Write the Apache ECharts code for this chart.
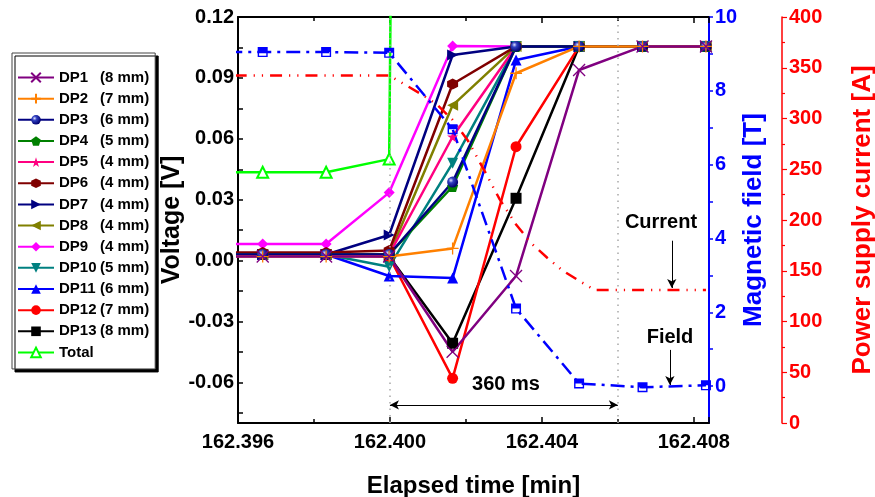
<!DOCTYPE html>
<html>
<head>
<meta charset="utf-8">
<script src="https://cdn.jsdelivr.net/npm/echarts@6/dist/echarts.min.js"></script>
<style>
  html, body { margin: 0; padding: 0; background: #fff; }
  #chart { width: 875px; height: 497px; }
</style>
</head>
<body>
<div id="chart"></div>
<script>
// sample times [min], first one is off the left edge
const times = [162.39498, 162.39665, 162.39832, 162.39998, 162.40165, 162.40332, 162.40498, 162.40665, 162.40832]

const dpNames = ["DP1", "DP2", "DP3", "DP4", "DP5", "DP6", "DP7", "DP8", "DP9", "DP10", "DP11", "DP12", "DP13"]
const dpSizes = [8, 7, 6, 5, 4, 4, 4, 4, 4, 5, 6, 7, 8]

const dp1 = [0.002, 0.002, 0.002, 0.002, -0.0449, -0.0076, 0.0939, 0.1055, 0.1055]
const dp2 = [0.002, 0.002, 0.002, 0.002, 0.006, 0.0923, 0.1055, 0.1055, 0.1055]
const dp3 = [0.003, 0.003, 0.003, 0.003, 0.0387, 0.1055, 0.1055, 0.1055, 0.1055]
const dp4 = [0.003, 0.003, 0.003, 0.003, 0.0365, 0.1055, 0.1055, 0.1055, 0.1055]
const dp5 = [0.003, 0.003, 0.003, 0.003, 0.061, 0.1055, 0.1055, 0.1055, 0.1055]
const dp6 = [0.004, 0.004, 0.004, 0.005, 0.087, 0.1055, 0.1055, 0.1055, 0.1055]
const dp7 = [0.003, 0.003, 0.003, 0.0126, 0.1013, 0.1055, 0.1055, 0.1055, 0.1055]
const dp8 = [0.003, 0.003, 0.003, 0.003, 0.0765, 0.1055, 0.1055, 0.1055, 0.1055]
const dp9 = [0.0082, 0.0082, 0.0082, 0.0335, 0.1057, 0.1055, 0.1055, 0.1055, 0.1055]
const dp10 = [0.003, 0.003, 0.003, -0.003, 0.048, 0.1055, 0.1055, 0.1055, 0.1055]
const dp11 = [0.003, 0.003, 0.003, -0.0076, -0.0086, 0.0988, 0.1055, 0.1055, 0.1055]
const dp12 = [0.003, 0.003, 0.003, 0.002, -0.058, 0.0561, 0.1055, 0.1055, 0.1055]
const dp13 = [0.003, 0.003, 0.003, 0.002, -0.0407, 0.0307, 0.1055, 0.1055, 0.1055]
const total = [0.0435, 0.0435, 0.0435, 0.050, 3.5, 3.5, 3.5, 3.5, 3.5]

// magnetic field [T]
const field = [9.05, 9.05, 9.05, 9.03, 6.96, 2.1, 0.07, -0.03, 0.02]

// power supply current [A]
const currentTimes = [162.39498, 162.39998, 162.40039, 162.40082, 162.40124, 162.40165, 162.40205, 162.40249, 162.40289,
  162.40332, 162.40372, 162.40414, 162.40455, 162.40498, 162.40539, 162.40832]
const currentValues = [342.4, 342.4, 333.5, 324.1, 313.8, 298.6, 278.4, 248.5, 220.3, 195.6, 177.1, 162.8, 150.1, 140.1, 131, 131]

const voltTicks = [-0.06, -0.03, 0, 0.03, 0.06, 0.09, 0.12]
const fieldTicks = [0, 2, 4, 6, 8, 10]

const FONT = "'Liberation Sans', Arial, sans-serif"

let myChart = echarts.init(document.getElementById("chart"))

const sphere = new echarts.graphic.RadialGradient(0.35, 0.35, 0.65, [
  { offset: 0, color: "#e0e0ff" },
  { offset: 0.35, color: "#3040c0" },
  { offset: 1, color: "#000070" },
])

const dpStyles = [
  { color: "#800080", symbol: "path://M0,0L10,10M10,0L0,10", stroke: true },
  { color: "#FF8000", symbol: "path://M5,0L5,10M0,5L10,5", stroke: true },
  { color: "#000080", symbol: "circle", fill: sphere },
  { color: "#008000", symbol: "path://M5,0L10,3.8L8.1,10L1.9,10L0,3.8Z" },
  { color: "#FF0080", symbol: "path://M5,0L6.2,3.6L10,3.6L6.9,5.9L8.1,9.5L5,7.3L1.9,9.5L3.1,5.9L0,3.6L3.8,3.6Z" },
  { color: "#800000", symbol: "path://M5,0L9.3,2.5L9.3,7.5L5,10L0.7,7.5L0.7,2.5Z" },
  { color: "#000080", symbol: "path://M0,0L10,5L0,10Z" },
  { color: "#808000", symbol: "path://M10,0L0,5L10,10Z" },
  { color: "#FF00FF", symbol: "diamond" },
  { color: "#008080", symbol: "path://M0,0L10,0L5,10Z" },
  { color: "#0000FF", symbol: "triangle" },
  { color: "#FF0000", symbol: "circle" },
  { color: "#000000", symbol: "rect" },
]
const dpValues = [dp1, dp2, dp3, dp4, dp5, dp6, dp7, dp8, dp9, dp10, dp11, dp12, dp13]

let series = []

// Total first so it sits underneath
series.push({
  name: "Total",
  type: "line",
  data: times.map((t, i) => [t, total[i]]),
  symbol: "emptyTriangle",
  symbolSize: 11,
  lineStyle: { color: "#00FF00", width: 2.5 },
  itemStyle: { color: "#00FF00", borderColor: "#00FF00", borderWidth: 1.5 },
})

const guide = { color: "#a8a8a8", width: 1.5, type: [1.5, 5] }

for (let k = dpNames.length - 1; k >= 0; k--) {
  let st = dpStyles[k]
  let s = {
    name: dpNames[k],
    type: "line",
    data: times.map((t, i) => [t, dpValues[k][i]]),
    symbol: st.symbol,
    symbolSize: st.stroke ? 12 : 11,
    lineStyle: { color: st.color, width: 2.5 },
    itemStyle: st.stroke
      ? { color: st.color, borderColor: st.color, borderWidth: 1.3 }
      : { color: st.fill || st.color },
  }
  if (k === 12) {
    // 360 ms span
    s.markLine = {
      silent: true,
      animation: false,
      symbol: ["arrow", "arrow"],
      symbolSize: [7, 9],
      label: { show: false },
      lineStyle: { color: "#000", width: 1, type: "solid" },
      data: [
        [{ coord: [162.400, -0.0711] }, { coord: [162.406, -0.0711] }],
      ],
    }
  }
  if (k === 11) {
    // dotted guide lines
    s.markLine = {
      silent: true,
      animation: false,
      symbol: ["none", "none"],
      label: { show: false },
      lineStyle: guide,
      data: [
        [{ coord: [162.400, -0.08] }, { coord: [162.400, 0.12] }],
        [{ coord: [162.406, -0.08] }, { coord: [162.406, 0.12] }],
      ],
    }
  }
  if (k === 10) {
    s.markLine = {
      silent: true,
      animation: false,
      symbol: ["none", "arrow"],
      symbolSize: [7, 9],
      label: { show: false },
      lineStyle: { color: "#000", width: 1, type: "solid" },
      data: [
        [{ coord: [162.40742, 0.0098] }, { coord: [162.40742, -0.0135] }],
        [{ coord: [162.40737, -0.044] }, { coord: [162.40737, -0.0613] }],
      ],
    }
  }
  series.push(s)
}

series.push({
  name: "Current",
  type: "line",
  yAxisIndex: 2,
  data: currentTimes.map((t, i) => [t, currentValues[i]]),
  showSymbol: false,
  symbol: "none",
  lineStyle: { color: "#FF0000", width: 2.5, type: [12, 7, 1.2, 7, 1.2, 7] },
})

series.push({
  name: "Field",
  type: "line",
  yAxisIndex: 1,
  data: times.map((t, i) => [t, field[i]]),
  symbol: "path://M0,0L10,0L10,10L0,10Z M1.4,5L1.4,8.6L8.6,8.6L8.6,5Z",
  symbolSize: 10,
  lineStyle: { color: "#0000FF", width: 2.5, type: [14, 6, 3, 6] },
  itemStyle: { color: "#0000FF" },
})

myChart.setOption({
  animation: false,
  backgroundColor: "#fff",
  textStyle: { fontFamily: FONT },
  grid: { left: 238, right: 166, top: 17, bottom: 74, containLabel: false, outerBoundsMode: "none" },
  legend: {
    orient: "vertical",
    left: 12,
    top: 53,
    data: dpNames.concat(["Total"]),
    itemWidth: 36,
    itemHeight: 12,
    itemGap: 6.15,
    padding: [17, 6, 9, 5],
    backgroundColor: "#fff",
    borderColor: "#444",
    borderWidth: 1,
    shadowColor: "#000",
    shadowBlur: 0,
    shadowOffsetX: 3,
    shadowOffsetY: 3,
    selectedMode: false,
    formatter: (name) => {
      let i = dpNames.indexOf(name)
      if (i < 0) return "{a|" + name + "}"
      return "{a|" + name + "}{b|(" + dpSizes[i] + " mm)}"
    },
    textStyle: {
      color: "#000",
      fontWeight: "bold",
      fontSize: 15,
      lineHeight: 15,
      fontFamily: FONT,
      rich: {
        a: { width: 41, fontWeight: "bold", fontSize: 15, lineHeight: 15, fontFamily: FONT, color: "#000" },
        b: { fontWeight: "bold", fontSize: 15, lineHeight: 15, fontFamily: FONT, color: "#000" },
      },
    },
  },
  xAxis: [
    {
      type: "value",
      min: 162.396,
      max: 162.4084,
      interval: 0.004,
      name: "Elapsed time [min]",
      nameLocation: "middle",
      nameGap: 51,
      nameMoveOverlap: false,
      nameTextStyle: { color: "#000", fontWeight: "bold", fontSize: 24, fontFamily: FONT },
      axisLine: { show: true, onZero: false, lineStyle: { color: "#000", width: 2 } },
      axisTick: { show: true, inside: true, length: 6, lineStyle: { color: "#000", width: 1.5 } },
      minorTick: { show: true, splitNumber: 2, length: 4, lineStyle: { color: "#000", width: 1.5 } },
      axisLabel: {
        color: "#000",
        fontWeight: "bold",
        fontSize: 20,
        fontFamily: FONT,
        margin: 9,
        formatter: (v) => v.toFixed(3),
      },
      splitLine: { show: false },
    },
    {
      type: "value",
      position: "top",
      min: 162.396,
      max: 162.4084,
      interval: 0.004,
      axisLine: { show: true, onZero: false, lineStyle: { color: "#000", width: 2 } },
      axisTick: { show: true, inside: true, length: 6, lineStyle: { color: "#000", width: 1.5 } },
      minorTick: { show: true, splitNumber: 2, length: 4, lineStyle: { color: "#000", width: 1.5 } },
      axisLabel: { show: false },
      splitLine: { show: false },
    },
  ],
  yAxis: [
    {
      type: "value",
      min: -0.08,
      max: 0.12,
      name: "Voltage [V]",
      nameLocation: "middle",
      nameRotate: 90,
      nameGap: 53,
      nameMoveOverlap: false,
      nameTextStyle: { color: "#000", fontWeight: "bold", fontSize: 25, fontFamily: FONT },
      axisLine: { show: true, onZero: false, lineStyle: { color: "#000", width: 2 } },
      axisTick: {
        show: true,
        inside: true,
        length: 5,
        customValues: [-0.075, -0.06, -0.045, -0.03, -0.015, 0, 0.015, 0.03, 0.045, 0.06, 0.075, 0.09, 0.105, 0.12],
        lineStyle: { color: "#000", width: 1.5 },
      },
      axisLabel: {
        color: "#000",
        fontWeight: "bold",
        fontSize: 20,
        fontFamily: FONT,
        margin: 4,
        customValues: voltTicks,
        formatter: (v) => v.toFixed(2),
      },
      splitLine: { show: false },
    },
    {
      type: "value",
      position: "right",
      min: -1,
      max: 10,
      name: "Magnetic field [T]",
      nameLocation: "middle",
      nameRotate: 90,
      nameGap: 32,
      nameMoveOverlap: false,
      nameTextStyle: { color: "#0000FF", fontWeight: "bold", fontSize: 26, fontFamily: FONT },
      axisLine: { show: true, onZero: false, lineStyle: { color: "#0000FF", width: 2 } },
      axisTick: {
        show: true,
        length: 4,
        customValues: [0, 1, 2, 3, 4, 5, 6, 7, 8, 9, 10],
        lineStyle: { color: "#0000FF", width: 1.5 },
      },
      axisLabel: {
        color: "#0000FF",
        fontWeight: "bold",
        fontSize: 20,
        fontFamily: FONT,
        margin: 6,
        customValues: fieldTicks,
      },
      splitLine: { show: false },
    },
    {
      type: "value",
      position: "right",
      offset: 73,
      min: 0,
      max: 400,
      interval: 50,
      name: "Power supply current [A]",
      nameLocation: "middle",
      nameRotate: 90,
      nameGap: 68,
      nameMoveOverlap: false,
      nameTextStyle: { color: "#FF0000", fontWeight: "bold", fontSize: 26, fontFamily: FONT },
      axisLine: { show: true, onZero: false, lineStyle: { color: "#FF0000", width: 1.5 } },
      axisTick: { show: true, length: 5, lineStyle: { color: "#FF0000", width: 1.2 } },
      minorTick: { show: true, splitNumber: 2, length: 3, lineStyle: { color: "#FF0000", width: 1.2 } },
      axisLabel: {
        color: "#FF0000",
        fontWeight: "bold",
        fontSize: 20,
        fontFamily: FONT,
        margin: 7,
      },
      splitLine: { show: false },
    },
  ],
  graphic: [
    { type: "text", silent: true, style: { text: "Current", x: 661, y: 222, align: "center", verticalAlign: "middle", font: "bold 20px " + FONT, fill: "#000" } },
    { type: "text", silent: true, style: { text: "Field", x: 670, y: 337, align: "center", verticalAlign: "middle", font: "bold 20px " + FONT, fill: "#000" } },
    { type: "text", silent: true, style: { text: "360 ms", x: 506, y: 384, align: "center", verticalAlign: "middle", font: "bold 20px " + FONT, fill: "#000" } },
  ],
  series: series,
})

window.addEventListener("resize", () => {
  myChart.resize()
})
</script>
</body>
</html>
